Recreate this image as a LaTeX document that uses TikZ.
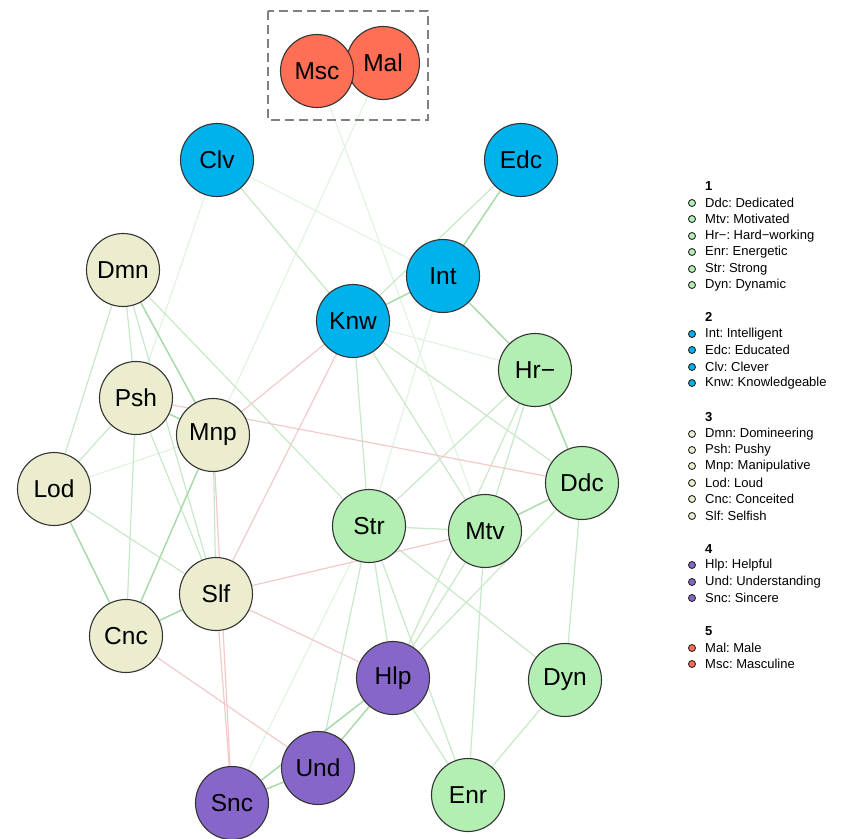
\documentclass[tikz,border=0pt]{standalone}
\usepackage{fontspec}
\setmainfont{Liberation Sans}
\usetikzlibrary{backgrounds}
\frenchspacing
\definecolor{cgreen}{HTML}{B3EEB3}
\definecolor{cblue}{HTML}{00B2EC}
\definecolor{cbeige}{HTML}{ECECCF}
\definecolor{cpurple}{HTML}{8766C9}
\definecolor{cred}{HTML}{FF6F55}
\definecolor{egs}{HTML}{A9DAA9}
\definecolor{egm}{HTML}{C8E8C8}
\definecolor{egw}{HTML}{E0F2E0}
\definecolor{ered}{HTML}{F3CACA}
\tikzset{
  vtx/.style={circle, draw=black!80, line width=1.1pt, fill=#1, minimum size=73pt, inner sep=0pt, font=\fontsize{24.5}{28}\selectfont},
  gs/.style={draw=egs, line width=1.5pt},
  gm/.style={draw=egm, line width=1.2pt},
  gw/.style={draw=egw, line width=1.1pt},
  rd/.style={draw=ered, line width=1.2pt},
  legdot/.style={circle, draw=black!85, line width=0.9pt, fill=#1, minimum size=7pt, inner sep=0pt},
  legtxt/.style={anchor=west, inner sep=0pt, font=\fontsize{13}{15}\selectfont},
  legtitle/.style={anchor=west, inner sep=0pt, font=\fontsize{13}{15}\selectfont\bfseries},
}
\begin{document}
\begin{tikzpicture}[x=1pt,y=-1pt]
\useasboundingbox (0,0) rectangle (843,838);
% nodes
\node[vtx=cred] (Mal) at (383,63) {Mal};
\node[vtx=cred] (Msc) at (317,71) {Msc};
\node[vtx=cblue] (Clv) at (217,160) {Clv};
\node[vtx=cblue] (Edc) at (521,160) {Edc};
\node[vtx=cblue] (Int) at (443,276) {Int};
\node[vtx=cblue] (Knw) at (353,321) {Knw};
\node[vtx=cgreen] (Hr) at (535,370) {Hr\char"2212};
\node[vtx=cgreen] (Ddc) at (582,483) {Ddc};
\node[vtx=cgreen] (Str) at (369,526) {Str};
\node[vtx=cgreen] (Mtv) at (485,531) {Mtv};
\node[vtx=cgreen] (Dyn) at (565,680) {Dyn};
\node[vtx=cgreen] (Enr) at (468,795) {Enr};
\node[vtx=cbeige] (Dmn) at (123,270) {Dmn};
\node[vtx=cbeige] (Psh) at (136,398) {Psh};
\node[vtx=cbeige] (Mnp) at (213,435) {Mnp};
\node[vtx=cbeige] (Lod) at (54,489) {Lod};
\node[vtx=cbeige] (Slf) at (216,594) {Slf};
\node[vtx=cbeige] (Cnc) at (126,636) {Cnc};
\node[vtx=cpurple] (Hlp) at (393,678) {Hlp};
\node[vtx=cpurple] (Und) at (318,768) {Und};
\node[vtx=cpurple] (Snc) at (232,803) {Snc};
% dashed box
\draw[draw=black!50, line width=2pt, dash pattern=on 9pt off 5pt] (268,11) rectangle (428,120);
% edges
\begin{scope}[on background layer]
% weak green
\draw[gw] (Msc) -- (Mtv);
\draw[gw] (Mal) -- (Mnp);
\draw[gw] (Clv) -- (Psh);
\draw[gw] (Lod) -- (Mnp);
\draw[gw] (Knw) -- (Hr);
\draw[gw] (Snc) -- (Str);
\draw[gw] (Int) -- (Str);
\draw[gw] (Clv) -- (Int);
% mid green
\draw[gm] (Dmn) -- (Psh);
\draw[gm] (Dmn) -- (Lod);
\draw[gm] (Lod) -- (Psh);
\draw[gm] (Psh) -- (Cnc);
\draw[gm] (Psh) -- (Slf);
\draw[gm] (Dmn) -- (Slf);
\draw[gm] (Mnp) -- (Slf);
\draw[gm] (Lod) -- (Slf);
\draw[gm] (Dmn) -- (Str);
\draw[gm] (Str) -- (Mtv);
\draw[gm] (Knw) -- (Str);
\draw[gm] (Knw) -- (Mtv);
\draw[gm] (Knw) -- (Ddc);
\draw[gm] (Hr) -- (Str);
\draw[gm] (Hr) -- (Mtv);
\draw[gm] (Hr) -- (Hlp);
\draw[gm] (Mtv) -- (Hlp);
\draw[gm] (Ddc) -- (Hlp);
\draw[gm] (Str) -- (Hlp);
\draw[gm] (Str) -- (Enr);
\draw[gm] (Hlp) -- (Enr);
\draw[gm] (Mtv) -- (Enr);
\draw[gm] (Dyn) -- (Enr);
\draw[gm] (Ddc) -- (Dyn);
\draw[gm] (Str) -- (Dyn);
\draw[gm] (Und) -- (Str);
\draw[gm] (Edc) -- (Knw);
\draw[gm] (Clv) -- (Knw);
% strong green
\draw[gs] (Int) -- (Knw);
\draw[gs] (Hr) -- (Ddc);
\draw[gs] (Mtv) -- (Ddc);
\draw[gs] (Und) -- (Hlp);
\draw[gs] (Mnp) -- (Cnc);
\draw[gs] (Int) -- (Hr);
\draw[gs] (Edc) -- (Int);
\draw[gs] (Lod) -- (Cnc);
\draw[gs] (Dmn) -- (Mnp);
\draw[gs] (Psh) -- (Mnp);
\draw[gs] (Cnc) -- (Slf);
\draw[gs] (Snc) -- (Und);
\draw[gs] (Snc) -- (Hlp);
% red
\draw[rd] (Knw) -- (Mnp);
\draw[rd] (Knw) -- (Slf);
\draw[rd] (Psh) -- (Ddc);
\draw[rd] (Slf) -- (Mtv);
\draw[rd] (Slf) -- (Hlp);
\draw[rd] (Slf) -- (Snc);
\draw[rd] (Mnp) -- (Snc);
\draw[rd] (Cnc) -- (Und);
\end{scope}
% legend
\node[legtitle] (t1) at (705,186) {1};
\node[legdot=cgreen] (d11) at (692,203) {}; \node[legtxt] (l11) at (705,203) {Ddc: Dedicated};
\node[legdot=cgreen] (d12) at (692,219) {}; \node[legtxt] (l12) at (705,219) {Mtv: Motivated};
\node[legdot=cgreen] (d13) at (692,236) {}; \node[legtxt] (l13) at (705,236) {Hr\char"2212: Hard\char"2212 working};
\node[legdot=cgreen] (d14) at (692,252) {}; \node[legtxt] (l14) at (705,252) {Enr: Energetic};
\node[legdot=cgreen] (d15) at (692,269) {}; \node[legtxt] (l15) at (705,269) {Str: Strong};
\node[legdot=cgreen] (d16) at (692,285) {}; \node[legtxt] (l16) at (705,285) {Dyn: Dynamic};
\node[legtitle] (t2) at (705,317) {2};
\node[legdot=cblue] (d21) at (692,334) {}; \node[legtxt] (l21) at (705,334) {Int: Intelligent};
\node[legdot=cblue] (d22) at (692,350) {}; \node[legtxt] (l22) at (705,350) {Edc: Educated};
\node[legdot=cblue] (d23) at (692,367) {}; \node[legtxt] (l23) at (705,367) {Clv: Clever};
\node[legdot=cblue] (d24) at (692,383) {}; \node[legtxt] (l24) at (705,383) {Knw: Knowledgeable};
\node[legtitle] (t3) at (705,417) {3};
\node[legdot=cbeige] (d31) at (692,434) {}; \node[legtxt] (l31) at (705,434) {Dmn: Domineering};
\node[legdot=cbeige] (d32) at (692,450) {}; \node[legtxt] (l32) at (705,450) {Psh: Pushy};
\node[legdot=cbeige] (d33) at (692,466) {}; \node[legtxt] (l33) at (705,466) {Mnp: Manipulative};
\node[legdot=cbeige] (d34) at (692,483) {}; \node[legtxt] (l34) at (705,483) {Lod: Loud};
\node[legdot=cbeige] (d35) at (692,499) {}; \node[legtxt] (l35) at (705,499) {Cnc: Conceited};
\node[legdot=cbeige] (d36) at (692,516) {}; \node[legtxt] (l36) at (705,516) {Slf: Selfish};
\node[legtitle] (t4) at (705,549) {4};
\node[legdot=cpurple] (d41) at (692,565) {}; \node[legtxt] (l41) at (705,565) {Hlp: Helpful};
\node[legdot=cpurple] (d42) at (692,582) {}; \node[legtxt] (l42) at (705,582) {Und: Understanding};
\node[legdot=cpurple] (d43) at (692,598) {}; \node[legtxt] (l43) at (705,598) {Snc: Sincere};
\node[legtitle] (t5) at (705,631) {5};
\node[legdot=cred] (d51) at (692,648) {}; \node[legtxt] (l51) at (705,648) {Mal: Male};
\node[legdot=cred] (d52) at (692,664) {}; \node[legtxt] (l52) at (705,664) {Msc: Masculine};
\end{tikzpicture}
\end{document}
